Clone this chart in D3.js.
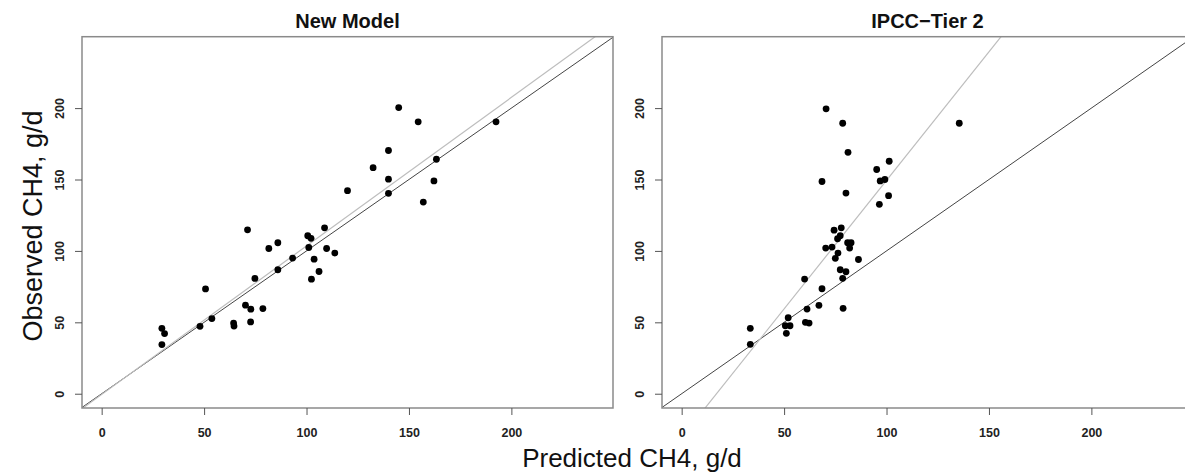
<!DOCTYPE html>
<html>
<head>
<meta charset="utf-8">
<script src="https://cdn.jsdelivr.net/npm/d3@7"></script>
<style>
  body { margin: 0; background: white; }
  svg { display: block; font-family: "Liberation Sans", Arial, sans-serif; }
</style>
</head>
<body>
<script>
// データ
const newPred = [145, 154.5, 192.5, 140, 163.4, 132.5, 140, 162.2, 120, 140, 157, 71.2, 108.8, 100.6, 102.2, 86, 81.6, 101.1, 109.8, 113.8, 93.2, 103.7, 86, 106.1, 74.8, 102.4, 50.7, 70.2, 72.8, 78.7, 53.8, 72.7, 64.4, 64.6, 48, 29.4, 30.7, 29.4];
const newObs = [200.4, 190.4, 190.4, 170.3, 164.2, 158.3, 150.2, 149, 142.2, 140.3, 134.2, 114.8, 116.2, 110.6, 108.8, 105.7, 101.7, 102.4, 101.7, 98.5, 95, 94.2, 86.8, 85.6, 80.7, 80.2, 73.4, 62, 59.2, 59.6, 52.6, 50.3, 49.5, 47.4, 47.2, 45.8, 42.1, 34.4];

const ipccPred = [70.5, 78.6, 135.5, 81.2, 101.3, 95.2, 68.5, 96.9, 99.2, 80.2, 101, 96.5, 74.4, 77.9, 77.4, 76.1, 81, 82.7, 70.3, 73.4, 82, 76.3, 75, 86.3, 77.4, 80.2, 78.6, 60, 68.5, 67, 61.2, 78.8, 52, 60.4, 62.2, 50.6, 52.9, 33.5, 51.1, 33.5];
const ipccObs = [199.5, 189.4, 189.4, 169, 162.8, 157, 148.6, 149, 150, 140.5, 138.7, 132.6, 114.5, 116.2, 110.6, 108.5, 105.7, 105.7, 102, 102.7, 102, 98.5, 94.8, 94, 86.8, 85.4, 80.8, 80.3, 73.5, 61.9, 59.3, 59.8, 53.2, 50, 49.5, 47.6, 47.6, 45.8, 42.3, 34.6];

// 回帰直線 [切片, 傾き]
const newFit = [-0.5, 1.04];
const ipccFit = [-30.6, 1.80];

const tickValues = [0, 50, 100, 150, 200];
const titles = ["New Model", "IPCC\u2212Tier 2"];

const width = 1185;
const height = 475;
const panelW = 531;
const plotTop = 36.7;
const plotBottom = 408;

const svg = d3.select("body").append("svg")
  .attr("width", width)
  .attr("height", height);

const panels = [
  { left: 82, title: titles[0], pred: newPred, obs: newObs, fit: newFit },
  { left: 662, title: titles[1], pred: ipccPred, obs: ipccObs, fit: ipccFit }
];

panels.forEach((p, i) => {
  const x = d3.scaleLinear().domain([-9.6, 249.6]).range([p.left, p.left + panelW]);
  const y = d3.scaleLinear().domain([-10, 250]).range([plotBottom, plotTop]);

  // クリップ
  svg.append("clipPath").attr("id", "clip" + i)
    .append("rect")
    .attr("x", p.left).attr("y", plotTop)
    .attr("width", panelW).attr("height", plotBottom - plotTop);

  const g = svg.append("g").attr("clip-path", `url(#clip${i})`);

  // 1:1 線
  g.append("line")
    .attr("x1", x(-20)).attr("y1", y(-20))
    .attr("x2", x(300)).attr("y2", y(300))
    .attr("stroke", "#444").attr("stroke-width", 1);

  // 回帰線
  g.append("line")
    .attr("x1", x(-20)).attr("y1", y(p.fit[0] + p.fit[1] * -20))
    .attr("x2", x(300)).attr("y2", y(p.fit[0] + p.fit[1] * 300))
    .attr("stroke", "#bdbdbd").attr("stroke-width", 1.2);

  // 点
  g.selectAll("circle")
    .data(d3.range(p.pred.length))
    .join("circle")
    .attr("cx", k => x(p.pred[k]))
    .attr("cy", k => y(p.obs[k]))
    .attr("r", 3.4)
    .attr("fill", "#000");

  // 枠
  svg.append("rect")
    .attr("x", p.left).attr("y", plotTop)
    .attr("width", panelW).attr("height", plotBottom - plotTop)
    .attr("fill", "none")
    .attr("stroke", "#8a8a8a")
    .attr("stroke-width", 1.5);

  // X軸
  const xAxis = svg.append("g")
    .attr("transform", `translate(0,${plotBottom})`)
    .call(d3.axisBottom(x).tickValues(tickValues).tickSize(7).tickPadding(13));
  xAxis.select(".domain").remove();
  xAxis.selectAll("line").attr("stroke", "#555");
  xAxis.selectAll("text")
    .attr("font-size", "12.5px")
    .attr("font-weight", "bold")
    .attr("font-family", "Liberation Sans, Arial, sans-serif")
    .attr("fill", "#222");

  // Y軸
  const yAxis = svg.append("g")
    .attr("transform", `translate(${p.left},0)`)
    .call(d3.axisLeft(y).tickValues(tickValues).tickSize(7));
  yAxis.select(".domain").remove();
  yAxis.selectAll("line").attr("stroke", "#555");
  yAxis.selectAll("text")
    .attr("transform", "rotate(-90)")
    .attr("x", 0)
    .attr("y", -18)
    .attr("dy", 0)
    .attr("text-anchor", "middle")
    .attr("font-size", "12.5px")
    .attr("font-weight", "bold")
    .attr("font-family", "Liberation Sans, Arial, sans-serif")
    .attr("fill", "#222");

  // タイトル
  svg.append("text")
    .attr("x", p.left + panelW / 2)
    .attr("y", 28)
    .attr("text-anchor", "middle")
    .attr("font-size", "20px")
    .attr("font-weight", "bold")
    .attr("fill", "#111")
    .text(p.title);
});

// 軸ラベル
svg.append("text")
  .attr("transform", "translate(42,226) rotate(-90)")
  .attr("text-anchor", "middle")
  .attr("font-size", "27px")
  .attr("fill", "#111")
  .text("Observed CH4, g/d");

svg.append("text")
  .attr("x", 632)
  .attr("y", 467)
  .attr("text-anchor", "middle")
  .attr("font-size", "26px")
  .attr("fill", "#111")
  .text("Predicted CH4, g/d");
</script>
</body>
</html>
